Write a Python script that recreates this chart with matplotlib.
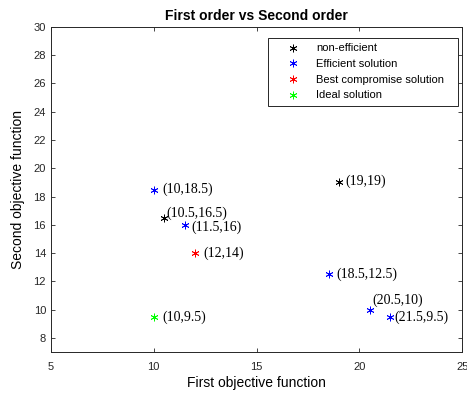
import matplotlib
matplotlib.use("Agg")
import matplotlib.pyplot as plt

# data
non_eff_x = [19, 10.5]
non_eff_y = [19, 16.5]
eff_x = [10, 11.5, 18.5, 20.5, 21.5]
eff_y = [18.5, 16, 12.5, 10, 9.5]
best_x = [12]
best_y = [14]
ideal_x = [10]
ideal_y = [9.5]

x_ticks = [5, 10, 15, 20, 25]
y_ticks = list(range(8, 31, 2))

ASTERISK = (6, 2, 0)

fig = plt.figure(figsize=(4.67, 3.94), dpi=100)
ax = fig.add_axes([0.109, 0.106, 0.881, 0.826])

ms = 5.5
mew = 0.6
ax.plot(non_eff_x, non_eff_y, ls="none", marker=ASTERISK, color="k", ms=ms, mew=mew, label="non-efficient")
ax.plot(eff_x, eff_y, ls="none", marker=ASTERISK, color="#0000ff", ms=ms, mew=mew, label="Efficient solution")
ax.plot(best_x, best_y, ls="none", marker=ASTERISK, color="#ff0000", ms=ms, mew=mew, label="Best compromise solution")
ax.plot(ideal_x, ideal_y, ls="none", marker=ASTERISK, color="#00ff00", ms=ms, mew=mew, label="Ideal solution")

# point labels, "(x,y)" next to each marker
all_x = non_eff_x + eff_x + best_x + ideal_x
all_y = non_eff_y + eff_y + best_y + ideal_y
nudge = {(10.5, 16.5): (0.12, 0.35), (20.5, 10): (0.12, 0.65), (11.5, 16): (0.35, -0.2),
         (21.5, 9.5): (0.2, 0.0), (19, 19): (0.3, 0.05)}
for x, y in zip(all_x, all_y):
    dx, dy = nudge.get((x, y), (0.4, 0.0))
    ax.text(x + dx, y + dy, f"({x:g},{y:g})", fontsize=10, family="Liberation Serif",
            ha="left", va="center")

ax.set_xlim(5, 25)
ax.set_ylim(7, 30)
ax.set_xticks(x_ticks)
ax.set_yticks(y_ticks)
ax.tick_params(direction="in", top=True, right=True, labelsize=8, length=3, width=0.6,
               colors="#262626")
ax.tick_params(axis="x", pad=7)
for s in ax.spines.values():
    s.set_linewidth(0.7)
    s.set_color("#262626")
for lab in ax.get_xticklabels() + ax.get_yticklabels():
    lab.set_family("Liberation Sans")

ax.set_xlabel("First objective function", fontsize=10, family="Liberation Sans", labelpad=3)
ax.set_ylabel("Second objective function", fontsize=10, family="Liberation Sans", labelpad=6)
ax.set_title("First order vs Second order", fontsize=10, fontweight="bold", family="Liberation Sans", pad=5)

# expand mode stretches the box to the anchor width, keeping the entries left
leg = ax.legend(loc="upper right", bbox_to_anchor=(0.528, 0.0, 0.462, 0.966), mode="expand",
                borderaxespad=0, fancybox=False, framealpha=1, edgecolor="#262626",
                prop={"family": "Liberation Sans", "size": 8},
                handletextpad=0.32, borderpad=0.5, labelspacing=0.51, handlelength=3.5)
leg.get_frame().set_linewidth(0.7)

fig.savefig("out.png", dpi=100)
